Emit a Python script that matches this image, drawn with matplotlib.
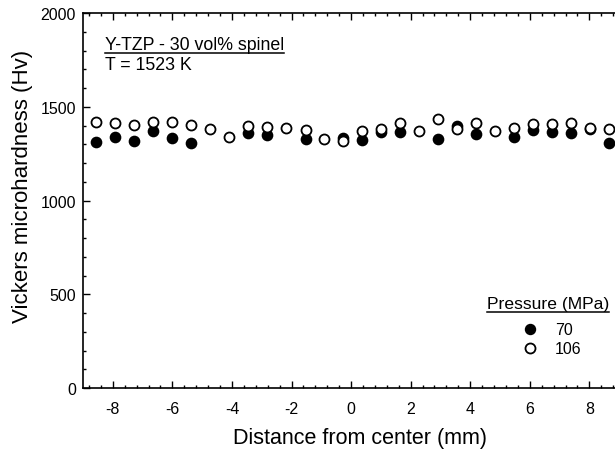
import numpy as np
import matplotlib
matplotlib.use("Agg")
import matplotlib.pyplot as plt
from matplotlib.ticker import MultipleLocator

plt.rcParams['font.family'] = ['Liberation Sans', 'DejaVu Sans']
plt.rcParams['axes.unicode_minus'] = False

# Distance from center (mm)
distance = [-8.57, -7.92, -7.28, -6.65, -6.01, -5.37, -4.73, -4.09, -3.45,
            -2.81, -2.18, -1.53, -0.91, -0.27, 0.38, 1.02, 1.64, 2.28,
            2.93, 3.57, 4.19, 4.84, 5.48, 6.12, 6.76, 7.38, 8.02, 8.66]
# Hv at 70 MPa (filled)
hv_70 = [1313, 1339, 1317, 1371, 1333, 1305, np.nan, np.nan, 1360,
         1349, np.nan, 1328, np.nan, 1335, 1323, 1367, 1364, np.nan,
         1328, 1400, 1355, np.nan, 1341, 1375, 1364, 1358, 1381, 1307]
# Hv at 106 MPa (open)
hv_106 = [1417, 1412, 1403, 1419, 1419, 1404, 1380, 1337, 1397,
          1391, 1385, 1378, 1328, 1320, 1372, 1381, 1412, 1372,
          1435, 1381, 1413, 1369, 1387, 1408, 1408, 1412, 1387, 1381]

legend_labels = ['70', '106']

fig = plt.figure(figsize=(6.15, 4.52), dpi=100)
ax = fig.add_axes([0.135, 0.139, 0.865, 0.830])

ms = 7.2
ax.plot(distance, hv_70, 'o', ms=ms, mfc='black', mec='black', mew=1.2, zorder=3)
ax.plot(distance, hv_106, 'o', ms=ms, mfc='white', mec='black', mew=1.3, zorder=4)

ax.set_xlim(-9, 8.86)
ax.set_ylim(0, 2000)
ax.xaxis.set_major_locator(MultipleLocator(2))
ax.xaxis.set_minor_locator(MultipleLocator(0.4))
ax.yaxis.set_major_locator(MultipleLocator(500))
ax.yaxis.set_minor_locator(MultipleLocator(100))
ax.tick_params(which='both', direction='in', top=True, right=False,
               labelsize=11.5, width=1)
ax.tick_params(which='major', length=5)
ax.tick_params(which='minor', length=2.5)
ax.tick_params(axis='x', which='major', pad=9)
ax.tick_params(axis='y', which='major', pad=5)
ax.spines['right'].set_visible(False)
for s in ['left', 'bottom', 'top']:
    ax.spines[s].set_linewidth(1.2)

ax.set_xlabel('Distance from center (mm)', fontsize=15.5)
ax.set_ylabel('Vickers microhardness (Hv)', fontsize=16)
ax.xaxis.set_label_coords(0.52, -0.103)
ax.yaxis.set_label_coords(-0.094, 0.54)

t1 = ax.text(0.041, 0.904, 'Y-TZP - 30 vol% spinel', transform=ax.transAxes,
             fontsize=12.8, va='baseline', ha='left')
ax.text(0.041, 0.851, 'T = 1523 K', transform=ax.transAxes,
        fontsize=12.8, va='baseline', ha='left')

# legend
t2 = ax.text(0.759, 0.213, 'Pressure (MPa)', transform=ax.transAxes,
             fontsize=12.6, va='baseline', ha='left')
ax.plot([0.840], [0.157], 'o', ms=ms, mfc='black', mec='black', transform=ax.transAxes)
ax.plot([0.840], [0.107], 'o', ms=ms, mfc='white', mec='black', mew=1.3, transform=ax.transAxes)
ax.text(0.887, 0.157, legend_labels[0], transform=ax.transAxes, fontsize=11.5, va='center')
ax.text(0.887, 0.107, legend_labels[1], transform=ax.transAxes, fontsize=11.5, va='center')

# underlines sized to the text
fig.canvas.draw()
r = fig.canvas.get_renderer()
inv = ax.transAxes.inverted()
for t, yline in [(t1, 0.894), (t2, 0.203)]:
    bb = t.get_window_extent(renderer=r)
    (x0, _), (x1, _) = inv.transform([[bb.x0, bb.y0], [bb.x1, bb.y1]])
    ax.plot([x0, x1], [yline, yline], transform=ax.transAxes, color='black', lw=1.1)

fig.savefig('out.png', dpi=100)
